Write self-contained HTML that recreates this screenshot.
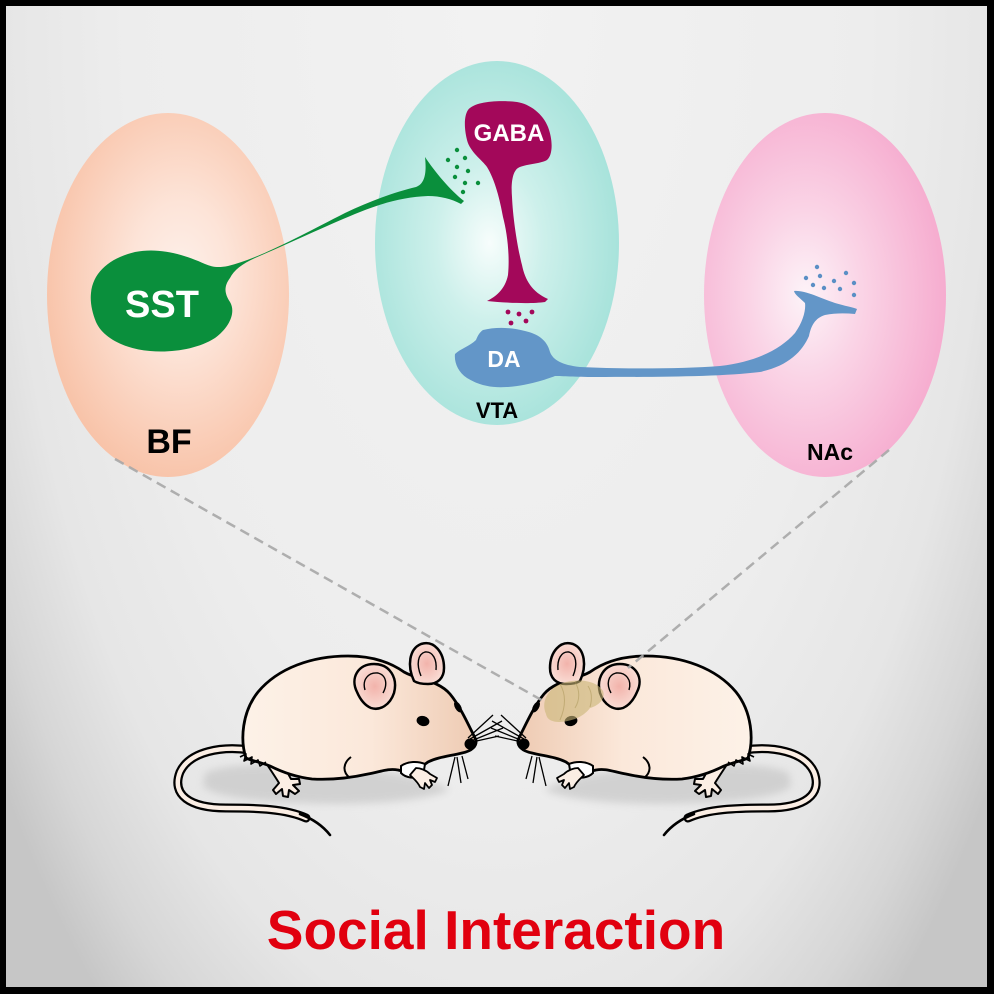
<!DOCTYPE html>
<html><head><meta charset="utf-8"><style>
html,body{margin:0;padding:0;background:#000;}
svg{display:block;}
text{font-family:"Liberation Sans",Arial,sans-serif;font-weight:bold;}
</style></head><body>
<svg width="994" height="994" viewBox="0 0 994 994" xmlns="http://www.w3.org/2000/svg">
<defs>
<radialGradient id="bg" gradientUnits="userSpaceOnUse" cx="497" cy="0" r="1300" gradientTransform="translate(497 0) scale(0.477 1) translate(-497 0)">
<stop offset="0" stop-color="#f2f2f2"/><stop offset="0.6" stop-color="#ededed"/><stop offset="0.8" stop-color="#e6e6e6"/><stop offset="0.92" stop-color="#d6d6d6"/><stop offset="1" stop-color="#c6c6c6"/>
</radialGradient>
<radialGradient id="gBF" cx="0.55" cy="0.45" r="0.58"><stop offset="0" stop-color="#fdf0ea"/><stop offset="0.35" stop-color="#fde4d8"/><stop offset="1" stop-color="#f8c2a7"/></radialGradient>
<radialGradient id="gVTA" cx="0.47" cy="0.5" r="0.55"><stop offset="0" stop-color="#f7fdfc"/><stop offset="0.4" stop-color="#cdf0eb"/><stop offset="1" stop-color="#a5e2da"/></radialGradient>
<radialGradient id="gNAc" cx="0.42" cy="0.5" r="0.58"><stop offset="0" stop-color="#fdf3f8"/><stop offset="0.4" stop-color="#fad4e6"/><stop offset="1" stop-color="#f6accf"/></radialGradient>
<linearGradient id="mBody" gradientUnits="userSpaceOnUse" x1="240" y1="0" x2="478" y2="0"><stop offset="0" stop-color="#fdf2e8"/><stop offset="0.55" stop-color="#fbe8da"/><stop offset="1" stop-color="#eecab2"/></linearGradient>
<radialGradient id="earG" cx="0.5" cy="0.5" r="0.6"><stop offset="0" stop-color="#f2b3ab"/><stop offset="1" stop-color="#fbe4dc"/></radialGradient>
<filter id="blur" x="-20%" y="-50%" width="140%" height="200%"><feGaussianBlur stdDeviation="4"/></filter>
<g id="mouse">
<path d="M205,773 C235,760 300,764 360,769 C400,772 432,779 450,790 C422,802 360,806 300,803 C250,801 212,796 203,786 Z" fill="#c4c4c4" opacity="0.65" filter="url(#blur)"/>
<path d="M250,750 C222,746 190,751 180,772 C171,795 190,808 226,808 C258,808 286,809 306,818" fill="none" stroke="#000" stroke-width="9" stroke-linecap="round"/>
<path d="M250,750 C222,746 190,751 180,772 C171,795 190,808 226,808 C258,808 286,809 306,818" fill="none" stroke="#fbeee4" stroke-width="4.5" stroke-linecap="round"/>
<path d="M300,814 C313,819 323,826 330,835" fill="none" stroke="#000" stroke-width="2.6" stroke-linecap="round"/>
<path d="M266,763 C272,772 276,778 279,783 L273,790 L276,794 L282,789 L283,796 L288,797 L289,790 L295,794 L299,791 L293,785 L300,784 L299,779 L291,779 C287,772 284,765 282,760 Z" fill="#fbeee4" stroke="#000" stroke-width="2" stroke-linejoin="round"/>
<path d="M246,758 C240,740 242,712 258,692 C278,668 312,656 348,656 C372,656 390,662 404,672 C418,680 438,680 450,694 C460,706 468,724 476,740 C477,746 472,751 462,753 C450,756 438,757 428,762 C420,768 410,774 398,770 C388,768 380,772 368,774 C350,778 330,780 312,779 C295,777 282,772 270,766 C260,762 252,761 246,758 Z" fill="url(#mBody)" stroke="#000" stroke-width="2.8" stroke-linejoin="round"/>
<path d="M240,757 L246,754 L244,761 L252,757 L251,764 L258,760 L260,766 L266,762" fill="none" stroke="#000" stroke-width="1.6" stroke-linejoin="round"/>
<path d="M350,778 C342,772 343,763 351,757" fill="none" stroke="#000" stroke-width="2"/>
<path d="M401,766 C408,761 418,761 425,764 L423,776 C414,779 406,778 401,773 Z" fill="#fff" stroke="#000" stroke-width="2"/>
<path d="M410,775 C414,779 418,782 420,787 L424,789 L425,783 L429,788 L432,785 L430,780 L435,782 L437,778 L430,774 C426,770 420,768 416,768 Z" fill="#fbeee4" stroke="#000" stroke-width="1.8" stroke-linejoin="round"/>
<path d="M357,692 C350,678 358,664 374,664 C390,664 398,678 394,693 C390,705 380,711 371,708 C364,705 360,699 357,692 Z" fill="url(#earG)" stroke="#000" stroke-width="2.5"/>
<path d="M365,690 C362,680 368,672 378,673 C386,675 388,684 383,693" fill="none" stroke="#000" stroke-width="1.4"/>
<path d="M414,681 C407,666 409,649 421,644 C434,640 444,652 444,668 C444,678 438,684 428,684 C422,684 417,683 414,681 Z" fill="url(#earG)" stroke="#000" stroke-width="2.5"/>
<path d="M421,676 C416,664 418,654 425,652 C433,651 437,660 436,670" fill="none" stroke="#000" stroke-width="1.4"/>
<ellipse cx="458" cy="707" rx="3" ry="6" transform="rotate(-30 458 707)" fill="#000"/>
<ellipse cx="423" cy="721" rx="6.5" ry="5" transform="rotate(15 423 721)" fill="#000"/>
<circle cx="470" cy="744" r="5.5" fill="#000"/>
<g stroke="#000" stroke-width="1.3" fill="none">
<path d="M468,738 L493,715"/><path d="M470,739 L502,721"/><path d="M471,741 L503,728"/><path d="M472,742 L499,736"/>
<path d="M455,757 L448,786"/><path d="M457,757 L461,783"/><path d="M462,756 L468,779"/>
</g>
</g>
</defs>

<rect x="0" y="0" width="994" height="994" fill="#000"/>
<rect x="6" y="6" width="981" height="981" fill="url(#bg)"/>

<ellipse cx="168" cy="295" rx="121" ry="182" fill="url(#gBF)"/>
<ellipse cx="497" cy="243" rx="122" ry="182" fill="url(#gVTA)"/>
<ellipse cx="825" cy="295" rx="121" ry="182" fill="url(#gNAc)"/>

<!-- SST -->
<path d="M91,293 C93,272 110,258 135,252 C160,247 185,255 205,264 C212,267 218,268 228,266 C260,258 300,236 345,213 C370,201 395,192 416,187 C424,184 427,175 425,157 C435,172 450,190 464,201 L461,204 C452,199 440,196 428,196 C405,197 385,202 360,212 C330,224 290,243 255,258 C242,264 234,270 230,278 C224,286 224,293 230,302 C236,312 230,327 215,338 C198,349 172,353 150,351 C125,349 103,338 96,322 C92,312 90,302 91,293 Z" fill="#0a8f3c"/>
<text x="162" y="317" font-size="38" fill="#fff" text-anchor="middle">SST</text>
<g fill="#0a8f3c">
<circle cx="457" cy="150" r="2.2"/><circle cx="465" cy="158" r="2.2"/><circle cx="448" cy="160" r="2.2"/><circle cx="457" cy="167" r="2.2"/><circle cx="468" cy="171" r="2.2"/><circle cx="455" cy="177" r="2.2"/><circle cx="465" cy="183" r="2.2"/><circle cx="478" cy="183" r="2.2"/><circle cx="463" cy="192" r="2.2"/>
</g>

<!-- GABA -->
<path d="M468,110 C475,101 500,100 517,102 C530,104 543,114 548,127 C553,140 553,155 547,160 C540,164 525,164 518,168 C512,172 511,185 512,197 C513,220 518,250 522,265 C525,280 532,292 548,299 L545,302 C532,304 505,303 487,301 C495,297 505,290 508,275 C510,255 507,232 503,217 C500,200 495,180 487,167 C482,160 470,152 467,140 C464,128 464,116 468,110 Z" fill="#a3085a"/>
<text x="509" y="141" font-size="24" fill="#fff" text-anchor="middle">GABA</text>
<g fill="#a3085a">
<circle cx="508" cy="312" r="2.4"/><circle cx="519" cy="314" r="2.4"/><circle cx="532" cy="312" r="2.4"/><circle cx="511" cy="323" r="2.4"/><circle cx="526" cy="321" r="2.4"/>
</g>

<!-- DA -->
<path d="M483,330 C495,327 510,327 525,331 C538,334 547,340 550,352 C553,360 562,365 580,367 C620,369 680,369 720,366 C755,362 780,350 795,333 C803,322 806,310 805,303 C800,298 795,295 794,291 C805,290 820,298 835,303 C845,306 852,307 857,309 L855,314 C845,313 835,313 825,315 C815,318 811,326 809,336 C802,352 788,366 760,372 C720,377 650,377 595,377 C575,377 562,376 555,376 C545,380 525,386 507,387 C493,388 480,386 467,378 C458,372 454,362 455,354 C460,349 470,346 476,340 C478,335 480,332 483,330 Z" fill="#6396c8"/>
<text x="504" y="367" font-size="23" fill="#fff" text-anchor="middle">DA</text>
<g fill="#5a8fc5">
<circle cx="817" cy="267" r="2.2"/><circle cx="806" cy="278" r="2.2"/><circle cx="820" cy="276" r="2.2"/><circle cx="846" cy="273" r="2.2"/><circle cx="813" cy="285" r="2.2"/><circle cx="824" cy="288" r="2.2"/><circle cx="834" cy="281" r="2.2"/><circle cx="840" cy="289" r="2.2"/><circle cx="854" cy="283" r="2.2"/><circle cx="854" cy="295" r="2.2"/>
</g>

<text x="169" y="453" font-size="34" fill="#000" text-anchor="middle">BF</text>
<text x="497" y="418" font-size="22" fill="#000" text-anchor="middle">VTA</text>
<text x="830" y="460" font-size="23" fill="#000" text-anchor="middle">NAc</text>

<!-- mice -->
<use href="#mouse"/>
<use href="#mouse" transform="matrix(-1 0 0 1 994 0)"/>

<!-- brain overlay on right mouse -->
<g>
<path d="M546,714 C540,700 550,686 566,682 C582,678 598,682 603,691 C606,699 598,706 590,708 C584,716 574,721 560,722 C551,722 547,719 546,714 Z" fill="#c9b676" opacity="0.6"/>
<path d="M560,684 C566,694 566,706 560,720 M575,682 C580,690 580,700 575,708 M588,686 C592,692 592,700 590,707" fill="none" stroke="#a89455" stroke-width="1" opacity="0.5"/>
</g>

<!-- dashed lines -->
<line x1="115" y1="459" x2="545" y2="702" stroke="#a8a8a8" stroke-width="2.5" stroke-dasharray="10 6" opacity="0.9"/>
<line x1="889" y1="450" x2="628" y2="668" stroke="#a8a8a8" stroke-width="2.5" stroke-dasharray="10 6" opacity="0.9"/>

<text x="496" y="949" font-size="55" fill="#e1000f" text-anchor="middle">Social Interaction</text>
</svg>
</body></html>
